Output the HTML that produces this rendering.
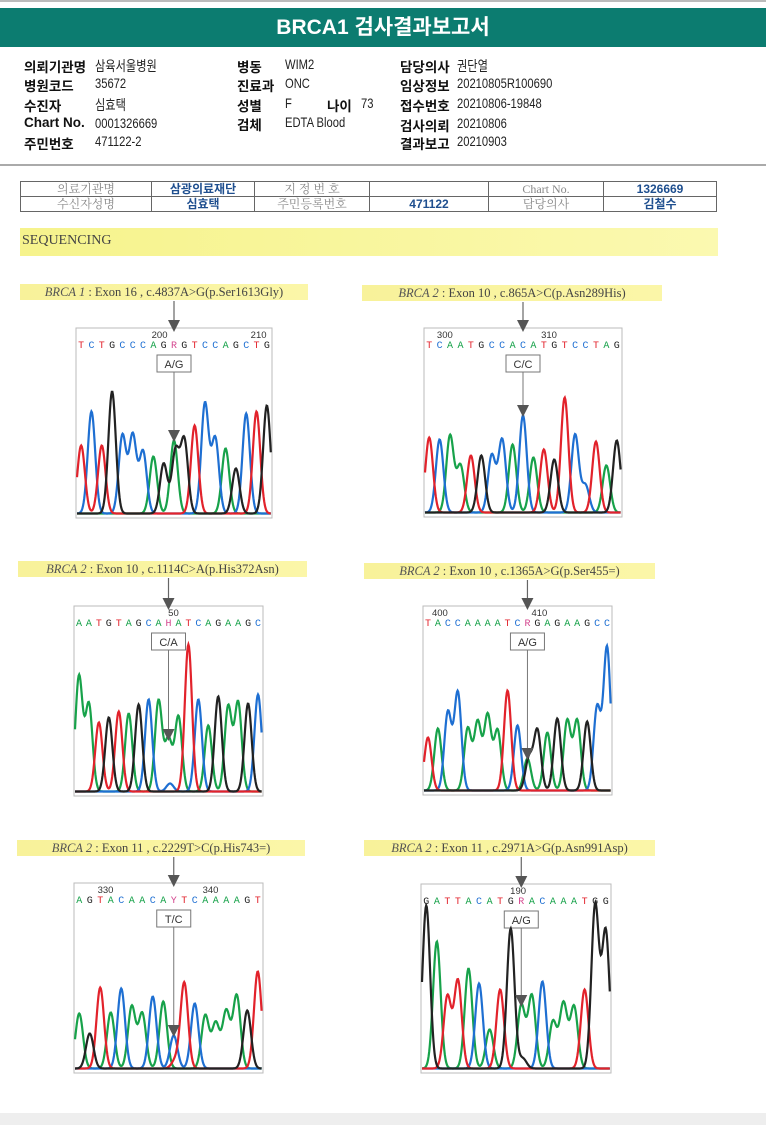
<!DOCTYPE html>
<html><head><meta charset="utf-8">
<style>
body{margin:0;width:766px;height:1125px;position:relative;background:#fff;overflow:hidden;font-family:"Liberation Sans","Noto Sans CJK KR",sans-serif;}
.abs{position:absolute;}
#title{left:0;top:8px;width:766px;height:39px;background:#0c7c70;color:#fff;font-weight:bold;font-size:21px;text-align:center;line-height:40px;}
.lb{position:absolute;font-weight:bold;font-size:13.5px;color:#111;white-space:nowrap;}
.vl{position:absolute;font-size:14px;color:#222;white-space:nowrap;transform:scaleX(0.8);transform-origin:left;}
table{border-collapse:collapse;}
#tbl td{border:1px solid #666;font-size:12px;height:14px;padding:0;text-align:center;font-family:"Liberation Serif","Noto Serif CJK SC",serif;color:#888;line-height:14px;}
#tbl td.v{color:#1f4f8f;font-weight:bold;font-family:"Liberation Sans","Noto Sans CJK KR",sans-serif;}
.cap{position:absolute;height:16px;background:linear-gradient(90deg,#f8f29a,#fbf6a8);font-family:"Liberation Serif",serif;font-size:12.5px;color:#444;line-height:16px;text-align:center;white-space:nowrap;}
.cap i{color:#555;}
</style></head><body>
<div class="abs" style="left:0;top:0;width:766px;height:2px;background:#bbb"></div>
<div id="title" class="abs">BRCA1 검사결과보고서</div>

<div>
<div class="lb" style="left:24px;top:56px">의뢰기관명</div><div class="vl" style="left:95px;top:56px">삼육서울병원</div>
<div class="lb" style="left:24px;top:75px">병원코드</div><div class="vl" style="left:95px;top:75px">35672</div>
<div class="lb" style="left:24px;top:95px">수진자</div><div class="vl" style="left:95px;top:95px">심효택</div>
<div class="lb" style="left:24px;top:115px">Chart No.</div><div class="vl" style="left:95px;top:115px">0001326669</div>
<div class="lb" style="left:24px;top:133px">주민번호</div><div class="vl" style="left:95px;top:133px">471122-2</div>
<div class="lb" style="left:237px;top:56px">병동</div><div class="vl" style="left:285px;top:56px">WIM2</div>
<div class="lb" style="left:237px;top:75px">진료과</div><div class="vl" style="left:285px;top:75px">ONC</div>
<div class="lb" style="left:237px;top:95px">성별</div><div class="vl" style="left:285px;top:95px">F</div>
<div class="lb" style="left:327px;top:95px">나이</div><div class="vl" style="left:361px;top:95px">73</div>
<div class="lb" style="left:237px;top:114px">검체</div><div class="vl" style="left:285px;top:114px">EDTA Blood</div>
<div class="lb" style="left:400px;top:56px">담당의사</div><div class="vl" style="left:457px;top:56px">권단열</div>
<div class="lb" style="left:400px;top:75px">임상정보</div><div class="vl" style="left:457px;top:75px">20210805R100690</div>
<div class="lb" style="left:400px;top:95px">접수번호</div><div class="vl" style="left:457px;top:95px">20210806-19848</div>
<div class="lb" style="left:400px;top:115px">검사의뢰</div><div class="vl" style="left:457px;top:115px">20210806</div>
<div class="lb" style="left:400px;top:133px">결과보고</div><div class="vl" style="left:457px;top:133px">20210903</div>
</div>
<div class="abs" style="left:0;top:164px;width:766px;height:2px;background:#aaa"></div>

<table id="tbl" class="abs" style="left:20px;top:181px;width:697px">
<tr><td style="width:130px">의료기관명</td><td class="v" style="width:102px">삼광의료재단</td><td style="width:114px">지 정 번 호</td><td style="width:118px"></td><td style="width:114px">Chart No.</td><td class="v">1326669</td></tr>
<tr><td>수신자성명</td><td class="v">심효택</td><td>주민등록번호</td><td class="v">471122</td><td>담당의사</td><td class="v">김철수</td></tr>
</table>

<div class="abs" style="left:20px;top:228px;width:696px;height:28px;background:linear-gradient(90deg,#f6f38c,#fbf9b0);font-family:'Liberation Serif',serif;font-size:14px;color:#444;line-height:26px;padding-left:2px">SEQUENCING</div>

<div id="panels"></div>
<div class="abs" style="left:0;top:1113px;width:766px;height:12px;background:#eee"></div>

<script>
// panel data
const captions = [["BRCA 1","Exon 16 , c.4837A>G(p.Ser1613Gly)"],["BRCA 2","Exon 10 , c.865A>C(p.Asn289His)"],["BRCA 2","Exon 10 , c.1114C>A(p.His372Asn)"],["BRCA 2","Exon 10 , c.1365A>G(p.Ser455=)"],["BRCA 2","Exon 11 , c.2229T>C(p.His743=)"],["BRCA 2","Exon 11 , c.2971A>G(p.Asn991Asp)"]];
const genotypes = ["A/G","C/C","C/A","A/G","T/C","A/G"];
const seqs = ["TCTGCCCAGRGTCCAGCTG","TCAATGCCACATGTCCTAG","AATGTAGCAHATCAGAAGC","TACCAAAATCRGAGAAGCC","AGTACAACAYTCAAAAGT","GATTACATGRACAAATGG"];
const mutIndex = [9,9,9,10,9,9];
const numLabelsAll = [[["200",7.6],["210",17.2]],[["300",1.5],["310",11.5]],[["50",9.5]],[["400",1.2],["410",11.2]],[["330",2.5],["340",12.5]],[["190",8.7]]];
const heights1 = [68,102,68,122,78,78,62,57,50,73,73,88,110,75,65,45,100,102,108];
const heights2 = [75,73,77,47,57,57,57,73,68,97,55,63,53,115,78,27,71,47,72];
const heights3 = [115,87,69,74,80,78,87,92,91,52,75,147,92,66,95,85,89,88,97];
const heights4 = [53,62,78,98,62,68,75,60,100,65,32,60,58,72,70,70,69,83,143];
const heights5 = [55,35,81,56,80,62,55,72,67,33,86,65,53,45,57,73,58,97];
const heights6 = [163,127,72,88,100,85,39,79,140,63,73,87,47,65,62,79,163,137];
const heights = [heights1,heights2,heights3,heights4,heights5,heights6];
// secondary peak at het position: [base, height]
const hetSecond = [["G",62],null,["C",8],["G",32],["T",8],["G",10]];

const geo=[{cx:20,cy:284,cw:288,bx:76,by:328,bw:196,bh:190},{cx:362,cy:285,cw:300,bx:424,by:328,bw:198,bh:189},{cx:18,cy:561,cw:289,bx:74,by:606,bw:189,bh:190},{cx:364,cy:563,cw:291,bx:423,by:606,bw:189,bh:189},{cx:17,cy:840,cw:288,bx:74,by:883,bw:189,bh:190},{cx:364,cy:840,cw:291,bx:421,by:884,bw:190,bh:189}];
const col={A:"#17a24a",C:"#1e6fd2",G:"#222",T:"#e2222b"};
const ambig={R:"A",H:"A",Y:"C",M:"A"};
const root=document.getElementById('panels');
const NS="http://www.w3.org/2000/svg";
geo.forEach((g,p)=>{
  const cap=document.createElement('div');
  cap.className='cap';
  
  
  cap.style.left=g.cx+'px';cap.style.top=g.cy+'px';cap.style.width=g.cw+'px';
  cap.innerHTML='<i>'+captions[p][0]+'</i> : '+captions[p][1].replace(/>/g,'&gt;');
  root.appendChild(cap);
  const seq=seqs[p], n=seq.length, sp=g.bw/n;
  const xOf=i=>g.bx+(i+0.5)*sp;
  const mx=xOf(mutIndex[p]);
  const svg=document.createElementNS(NS,'svg');
  
  
  svg.setAttribute('width',766);svg.setAttribute('height',1125);
  svg.style.position='absolute';svg.style.left='0';svg.style.top='0';
  let h='';
  h+=`<rect x="${g.bx}" y="${g.by}" width="${g.bw}" height="${g.bh}" fill="#fff" stroke="#bbb" stroke-width="1"/>`;
  h+=`<line x1="${mx}" y1="${g.cy+17}" x2="${mx}" y2="${g.by-6}" stroke="#666" stroke-width="1.2"/>`;
  h+=`<polygon points="${mx-6},${g.by-8} ${mx+6},${g.by-8} ${mx},${g.by+4}" fill="#555"/>`;
  numLabelsAll[p].forEach(([t,i])=>{h+=`<text x="${g.bx+(i+0.5)*sp}" y="${g.by+10}" font-size="9.5" fill="#333" text-anchor="middle" font-family="Liberation Sans">${t}</text>`;});
  for(let i=0;i<n;i++){const c=seq[i];const f=col[c]||"#d4468e";
    h+=`<text x="${xOf(i)}" y="${g.by+20}" font-size="10" fill="${f}" text-anchor="middle" font-family="Liberation Mono">${c}</text>`;}
  h+=`<rect x="${mx-17}" y="${g.by+27}" width="34" height="17" fill="#fff" stroke="#777"/>`;
  h+=`<text x="${mx}" y="${g.by+40}" font-size="11" fill="#333" text-anchor="middle" font-family="Liberation Sans">${genotypes[p]}</text>`;
  const base=g.by+g.bh-3;
  const peaks={A:[],C:[],G:[],T:[]};
  for(let i=0;i<n;i++){let c=seq[i];if(!col[c])c=ambig[c];peaks[c].push([xOf(i),heights[p][i]]);}
  if(hetSecond[p]) peaks[hetSecond[p][0]].push([xOf(mutIndex[p])+1.5,hetSecond[p][1]]);
  const sig=sp*0.36;
  ['A','C','T','G'].forEach(b=>{
    let d='';
    for(let x=g.bx+1;x<=g.bx+g.bw-1;x+=0.6){
      let y=1.5;peaks[b].forEach(([px,ph])=>{y+=ph*Math.exp(-((x-px)**2)/(2*sig*sig));});
      d+=(d?'L':'M')+x.toFixed(1)+','+(base-y).toFixed(1);
    }
    h+=`<path d="${d}" fill="none" stroke="${col[b]}" stroke-width="2.2"/>`;
  });
  const top=base-heights[p][mutIndex[p]];
  h+=`<line x1="${mx}" y1="${g.by+44}" x2="${mx}" y2="${top-8}" stroke="#777" stroke-width="1"/>`;
  h+=`<polygon points="${mx-6},${top-12} ${mx+6},${top-12} ${mx},${top}" fill="#555"/>`;
  svg.innerHTML=h;
  root.appendChild(svg);
});
</script>
</body></html>
